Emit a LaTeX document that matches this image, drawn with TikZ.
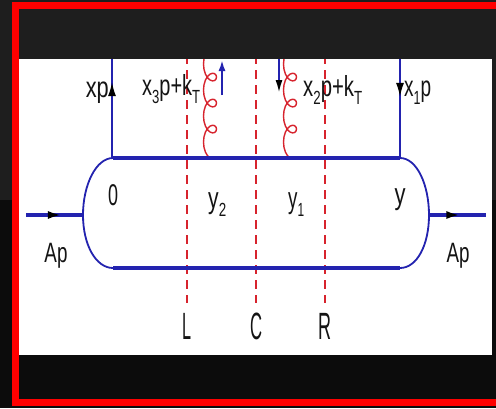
\documentclass[tikz,border=0pt]{standalone}
\usepackage{fontspec}
\setmainfont{Liberation Sans}
\usetikzlibrary{decorations.pathmorphing,decorations.markings,arrows.meta}
\definecolor{bluel}{RGB}{35,35,175}
\definecolor{redl}{RGB}{215,35,45}
\definecolor{bgtop}{RGB}{30,30,30}
\definecolor{bgbot}{RGB}{12,12,12}
\definecolor{framered}{RGB}{255,0,0}
\definecolor{txt}{RGB}{20,20,20}
\newcommand\lab[3]{\resizebox{#2}{\height}{\fontsize{#1}{#1}\selectfont #3}}
\newcommand\sbs[1]{\raisebox{-0.28em}{\fontsize{19}{19}\selectfont #1}}
\tikzset{
  thickline/.style={bluel, line width=3.5pt},
  thinline/.style={bluel, line width=1.8pt},
  extline/.style={bluel, line width=4pt},
  cutline/.style={redl, line width=2pt, dash pattern=on 9pt off 6pt},
  gluon/.style={redl, line width=1.4pt, decorate,
     decoration={coil, amplitude=6.5pt, segment length=26pt, aspect=1.45}},
  lbl/.style={inner sep=0pt, text=txt},
  midarrow/.style={postaction={decorate, decoration={markings,
     mark=at position #1 with {\arrow[black]{Latex[length=14pt,width=8pt]}}}}}
}
\begin{document}
\begin{tikzpicture}[x=1pt,y=-1pt]
\useasboundingbox (0,0) rectangle (496,408);
\clip (0,0) rectangle (496,408);
% background screenshot frame
\fill[bgtop] (0,0) rectangle (496,408);
\fill[bgbot] (0,200) rectangle (496,408);
\fill[bgtop] (19,9) rectangle (496,59);
\fill[bgbot] (19,355) rectangle (496,399);
\draw[framered, line width=7pt] (15.5,5.5) rectangle (530,402.5);
\fill[white] (19,59) rectangle (492,355);
\begin{scope}
\clip (19,59) rectangle (492,355);
% coordinates
\coordinate (inL) at (26,215);
\coordinate (capL) at (83,215);
\coordinate (capR) at (429,215);
\coordinate (outR) at (486,215);
\coordinate (tl) at (113,158);
\coordinate (tr) at (400,158);
\coordinate (bl) at (113,268);
\coordinate (br) at (400,268);
\coordinate (vlT) at (112,40);
\coordinate (vlB) at (112,158);
\coordinate (vrT) at (400,40);
\coordinate (vrB) at (400,158);
\coordinate (gLb) at (210,158);
\coordinate (gLt) at (210,40);
\coordinate (gRb) at (290,158);
\coordinate (gRt) at (290,40);
\coordinate (aLb) at (222,95);
\coordinate (aLt) at (222,60);
\coordinate (aRt) at (279,50);
\coordinate (aRb) at (279,93);
\coordinate (Lt) at (187,40);
\coordinate (Lb) at (187,303);
\coordinate (Ct) at (256,40);
\coordinate (Cb) at (256,303);
\coordinate (Rt) at (325,40);
\coordinate (Rb) at (325,303);
% cut lines
\draw[cutline] (Lt) -- (Lb);
\draw[cutline, line width=2.8pt] (Ct) -- (Cb);
\draw[cutline] (Rt) -- (Rb);
% gluons
\draw[gluon] (gLb) -- (gLt);
\draw[gluon] (gRb) -- (gRt);
% capsule
\draw[thinline] (tl) .. controls (96,158) and (83,185) .. (capL)
   .. controls (83,245) and (96,268) .. (bl);
\draw[thinline] (tr) .. controls (417,158) and (429,185) .. (capR)
   .. controls (429,245) and (417,268) .. (br);
\draw[thickline] (tl) -- (tr);
\draw[thickline] (bl) -- (br);
% external lines
\draw[extline, midarrow=0.63] (inL) -- (capL);
\draw[extline, midarrow=0.55] (capR) -- (outR);
% vertical quark lines
\draw[thinline, midarrow=0.644] (vlB) -- (vlT);
\draw[thinline, midarrow=0.483] (vrT) -- (vrB);
% small momentum arrows
\draw[bluel, line width=2pt, -{Latex[length=11pt,width=7pt]}] (aLb) -- (aLt);
\draw[bluel, line width=2pt, -{Latex[length=13pt,width=7pt,black]}] (aRt) -- (aRb);
% labels
\node[lbl, anchor=base east] (xp) at (109,97) {\lab{29}{23pt}{xp}};
\node[lbl, anchor=base west] (x3) at (142,95) {\lab{29}{58pt}{x\sbs{3}p+k\sbs{T}}};
\node[lbl, anchor=base west] (x2) at (303,96) {\lab{29}{59pt}{x\sbs{2}p+k\sbs{T}}};
\node[lbl, anchor=base west] (x1) at (404,96) {\lab{29}{27pt}{x\sbs{1}p}};
\node[lbl, anchor=base] (ApL) at (56,262) {\lab{28}{23pt}{Ap}};
\node[lbl, anchor=base] (ApR) at (458,262) {\lab{28}{23pt}{Ap}};
\node[lbl, anchor=base] (y0) at (113,205) {\lab{30}{10pt}{0}};
\node[lbl, anchor=base west] (y2) at (208,208) {\lab{30}{18pt}{y\sbs{2}}};
\node[lbl, anchor=base west] (y1) at (288,208) {\lab{30}{16pt}{y\sbs{1}}};
\node[lbl, anchor=base] (yy) at (400,204) {\lab{30}{11pt}{y}};
\node[lbl, anchor=base] (lL) at (187,339) {\lab{38}{9pt}{L}};
\node[lbl, anchor=base] (lC) at (256,339) {\lab{38}{12pt}{C}};
\node[lbl, anchor=base] (lR) at (325,339) {\lab{38}{13pt}{R}};
\end{scope}
\end{tikzpicture}
\end{document}
